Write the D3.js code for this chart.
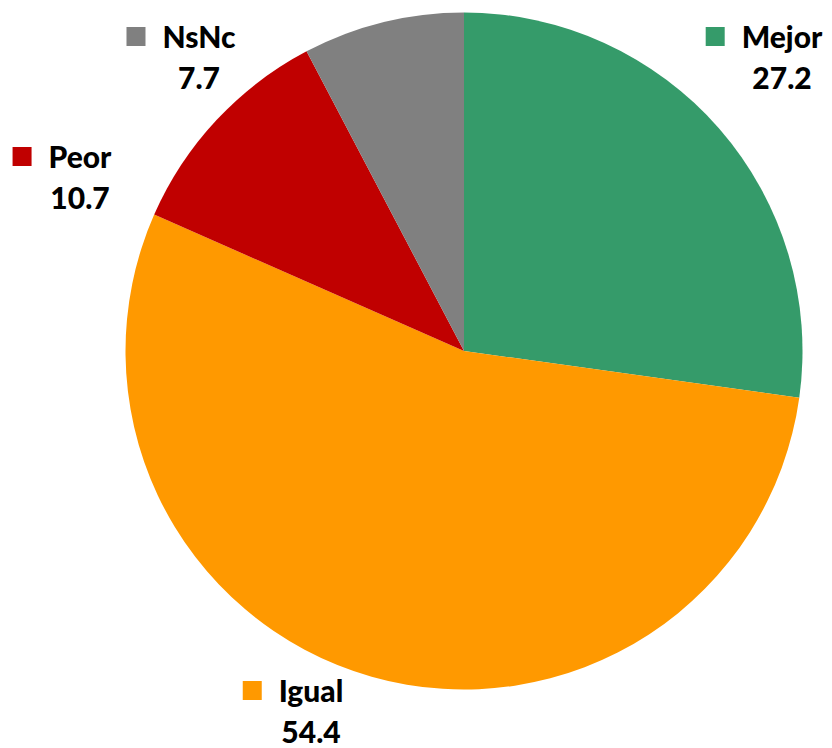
<!DOCTYPE html>
<html><head><meta charset="utf-8">
<script src="https://cdn.jsdelivr.net/npm/d3@7"></script>
<style>html,body{margin:0;padding:0;background:#fff;}svg{display:block;}</style>
</head><body>
<svg id="chart" width="832" height="748"></svg>
<script>
const categories = ["Mejor", "Igual", "Peor", "NsNc"];
const values = [27.2, 54.4, 10.7, 7.7];
const colors = ["#359B6A", "#FF9900", "#C00000", "#808080"];
// label layout: center x of text block and baseline of first line
const labelPos = [[782, 48], [311, 702], [80, 168], [199, 48]];

const svg = d3.select("#chart");
const cx = 464, cy = 351, r = 338.5;
const data = categories.map((c, i) => ({cat: c, value: values[i], color: colors[i], pos: labelPos[i]}));
const pie = d3.pie().value(d => d.value).sort(null);
const arc = d3.arc().innerRadius(0).outerRadius(r);
const g = svg.append("g").attr("transform", `translate(${cx},${cy})`);
g.selectAll("path").data(pie(data)).join("path")
  .attr("d", arc).attr("fill", d => d.data.color);

const font = "Lato, 'Open Sans', sans-serif";
const fs = 30;
data.forEach(d => {
  const lg = svg.append("g");
  const t1 = lg.append("text").attr("x", d.pos[0]).attr("y", d.pos[1])
    .attr("text-anchor", "middle").attr("font-family", font).attr("font-weight", 900)
    .attr("font-size", fs).attr("fill", "#000").text(d.cat);
  const w = t1.node().getComputedTextLength();
  lg.append("rect").attr("x", d.pos[0] - w / 2 - 36).attr("y", d.pos[1] - 21)
    .attr("width", 19).attr("height", 19).attr("fill", d.color);
  lg.append("text").attr("x", d.pos[0]).attr("y", d.pos[1] + 41)
    .attr("text-anchor", "middle").attr("font-family", font).attr("font-weight", 900)
    .attr("font-size", fs).attr("fill", "#000").text(d.value.toFixed(1));
});
</script>
</body></html>
